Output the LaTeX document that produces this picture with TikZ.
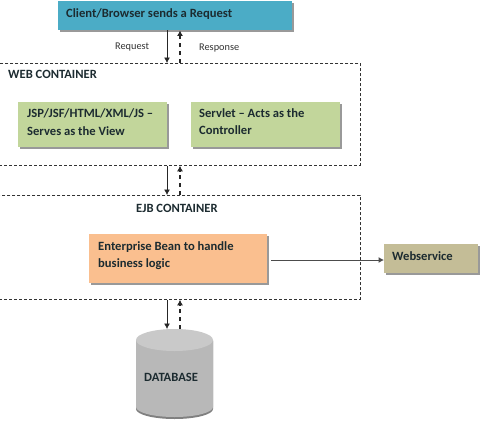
\documentclass[tikz,border=0pt]{standalone}
\usepackage{fontspec}
\setmainfont{Carlito}
\usetikzlibrary{shadows,arrows.meta}
\definecolor{clientblue}{HTML}{4BACC6}
\definecolor{viewgreen}{HTML}{C2D69B}
\definecolor{beanorange}{HTML}{FABF8F}
\definecolor{wstan}{HTML}{C4BD97}
\definecolor{inktext}{HTML}{1C2B30}
\tikzset{
  x=1pt,y=-1pt,
  boxbase/.style={draw=none,anchor=north west,inner sep=0pt,
    drop shadow={shadow xshift=2pt,shadow yshift=-2pt,fill=black!40,opacity=1}},
  container/.style={draw=black!80,line width=0.8pt,dash pattern=on 3pt off 2pt,anchor=north west,inner sep=0pt},
  caption/.style={font=\bfseries\fontsize{12.6}{17.5}\selectfont,text=inktext,anchor=north west,align=left,inner sep=0pt},
  small/.style={font=\fontsize{10.3}{12}\selectfont,text=black!80,inner sep=0pt},
  solidarrow/.style={-{Latex[length=5.5pt,width=6pt]},line width=0.8pt,draw=black!85},
  dasharrow/.style={-{Latex[length=5.5pt,width=6pt]},line width=1.1pt,draw=black!85,dash pattern=on 4.5pt off 3.5pt},
}
\begin{document}
\begin{tikzpicture}
\clip (0,0) rectangle (482,423);
\fill[white] (0,0) rectangle (482,423);
\node[container,minimum width=361pt,minimum height=102pt] (web) at (-1,63) {};
\node[container,minimum width=361pt,minimum height=104pt] (ejb) at (-1,195) {};
\node[boxbase,fill=clientblue,minimum width=234pt,minimum height=29pt] (client) at (58,1) {};
\node[boxbase,fill=viewgreen,minimum width=149pt,minimum height=45pt] (view) at (18,102) {};
\node[boxbase,fill=viewgreen,minimum width=149pt,minimum height=45pt] (servlet) at (191,102) {};
\node[boxbase,fill=beanorange,minimum width=178pt,minimum height=49pt] (bean) at (89,234) {};
\node[boxbase,fill=wstan,minimum width=94pt,minimum height=29pt] (ws) at (384,244) {};
% database cylinder
\fill[black!50] (136,341) -- (136,409) arc[start angle=180,end angle=360,x radius=38.5,y radius=-10] -- (213,341) -- cycle;
\fill[black!28] (136,340) -- (136,407) arc[start angle=180,end angle=360,x radius=38.5,y radius=-10] -- (213,340) -- cycle;
\fill[black!21] (174.5,340) ellipse[x radius=38.5,y radius=11];
\node[minimum width=77pt,minimum height=89pt,inner sep=0pt,anchor=north west] (db) at (136,329) {};
\coordinate (reqx) at (167,0);
\coordinate (resx) at (180,0);
\coordinate (wsy) at (0,260);
\node[caption] (clientlabel) at (66,8) {Client/Browser sends a Request};
\node[caption] (weblabel) at (8,70.5) {WEB CONTAINER};
\node[caption] (viewlabel) at (27,108.5) {JSP/JSF/HTML/XML/JS –\\Serves as the View};
\node[caption] (servletlabel) at (199,108) {Servlet – Acts as the\\Controller};
\node[caption] (ejblabel) at (136,204.5) {EJB CONTAINER};
\node[caption] (beanlabel) at (98,241) {Enterprise Bean to handle\\business logic};
\node[caption] (wslabel) at (392,251) {Webservice};
\node[caption] (dblabel) at (144,373.5) {DATABASE};
\node[small,anchor=west] (reqlabel) at (115,47) {Request};
\node[small,anchor=west] (reslabel) at (199,48.5) {Response};
\draw[solidarrow] (client.south -| reqx) -- (web.north -| reqx);
\draw[dasharrow] (web.north -| resx) -- (client.south -| resx);
\draw[solidarrow] (web.south -| reqx) -- (ejb.north -| reqx);
\draw[dasharrow] (ejb.north -| resx) -- (web.south -| resx);
\draw[solidarrow] (ejb.south -| reqx) -- (db.north -| reqx);
\draw[dasharrow] (db.north -| resx) -- (ejb.south -| resx);
\draw[solidarrow,draw=black!70,line width=1pt] (bean.east |- wsy) ++(4,0) -- (ws.west |- wsy);
\end{tikzpicture}
\end{document}
